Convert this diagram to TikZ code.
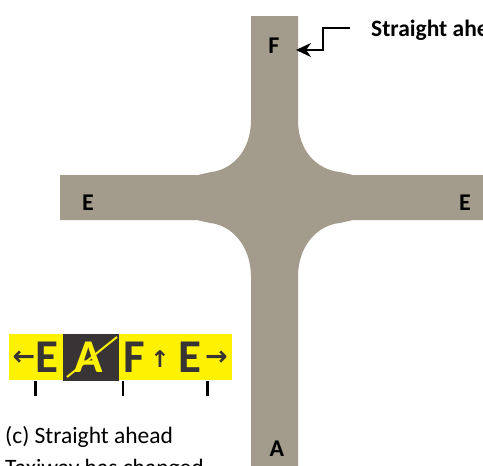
\documentclass[tikz,border=0pt]{standalone}
\usepackage{fontspec}
\setmainfont{Carlito}
\newfontfamily\arrowfont{DejaVu Sans}
\usetikzlibrary{arrows.meta}

\definecolor{taxigray}{RGB}{163,155,139}
\definecolor{signyellow}{RGB}{255,242,0}
\definecolor{signdark}{RGB}{56,52,53}

\begin{document}
\begin{tikzpicture}[x = 1pt, y = -1pt,
	taxilabel/.style = {font = \fontsize{24}{28}\selectfont\bfseries},
	signletter/.style = {font = \fontsize{47}{50}\selectfont\bfseries, inner sep = 0pt},
	signarrow/.style = {font = \arrowfont\bfseries\fontsize{27}{30}\selectfont, inner sep = 0pt, text = signdark},
	caption/.style = {font = \fontsize{23.5}{28}\selectfont, anchor = base west, inner sep = 0pt},
	callout/.style = {line width = 1.8pt, -{Stealth[length = 15pt, width = 14pt]}}]

	\useasboundingbox (0, 0) rectangle (483, 466);
	\clip (0, 0) rectangle (483, 466);

	% Taxiways

	\fill [taxigray] (251, 16) -- (298, 16) -- (298, 120)
		.. controls (298, 152) and (318, 170) .. (340, 172) -- (353, 175) -- (490, 175)
		-- (490, 220) -- (353, 220) -- (340, 223)
		.. controls (318, 225) and (298, 245) .. (298, 277) -- (298, 470)
		-- (251, 470) -- (251, 277)
		.. controls (251, 245) and (231, 225) .. (210, 223) -- (197, 220) -- (60, 220)
		-- (60, 175) -- (198, 175) -- (211, 172)
		.. controls (231, 170) and (251, 152) .. (251, 120) -- cycle;

	% Taxiway labels

	\node [taxilabel] (F) at (274, 46) {F};
	\node [taxilabel] (Ewest) at (88, 203) {E};
	\node [taxilabel] (Eeast) at (465, 203) {E};
	\node [taxilabel] (A) at (277, 449) {A};

	% Callout

	\node [caption, font = \fontsize{23.5}{28}\selectfont\bfseries] (straight) at (371, 36) {Straight ahead};
	\coordinate (lead) at (350, 28);
	\coordinate (tip) at (296, 50);
	\draw [callout] (lead) -- ++(-27, 0) |- (tip);

	% Sign

	\fill [signyellow] (9, 334) rectangle (232, 380);
	\fill [signdark] (63, 334) rectangle (119, 381);

	\node [signarrow] (left) at (24, 358) {←};
	\node [signletter, text = signdark] (signE) at (46.5, 357) {E};
	\node [signletter, text = signyellow] (signA) at (89, 357) {A};
	\draw [signyellow, line width = 2pt] (67, 377) -- (117, 337);
	\node [signletter, text = signdark] (signF) at (134, 357) {F};
	\node [signarrow, font = \arrowfont\bfseries\fontsize{23}{26}\selectfont] (up) at (160, 359) {↑};
	\node [signletter, text = signdark] (signEb) at (189.5, 357) {E};
	\node [signarrow] (right) at (216.5, 358) {→};

	% Ticks

	\draw [line width = 3pt] (35, 381) -- (35, 396);
	\draw [line width = 2pt] (123, 381) -- (123, 396);
	\draw [line width = 3pt] (207, 381) -- (207, 396);

	% Caption

	\node [caption] (capline) at (5, 443) {(c) Straight ahead};
	\node [caption] (capnext) at (5, 475) {Taxiway has changed};

\end{tikzpicture}
\end{document}
